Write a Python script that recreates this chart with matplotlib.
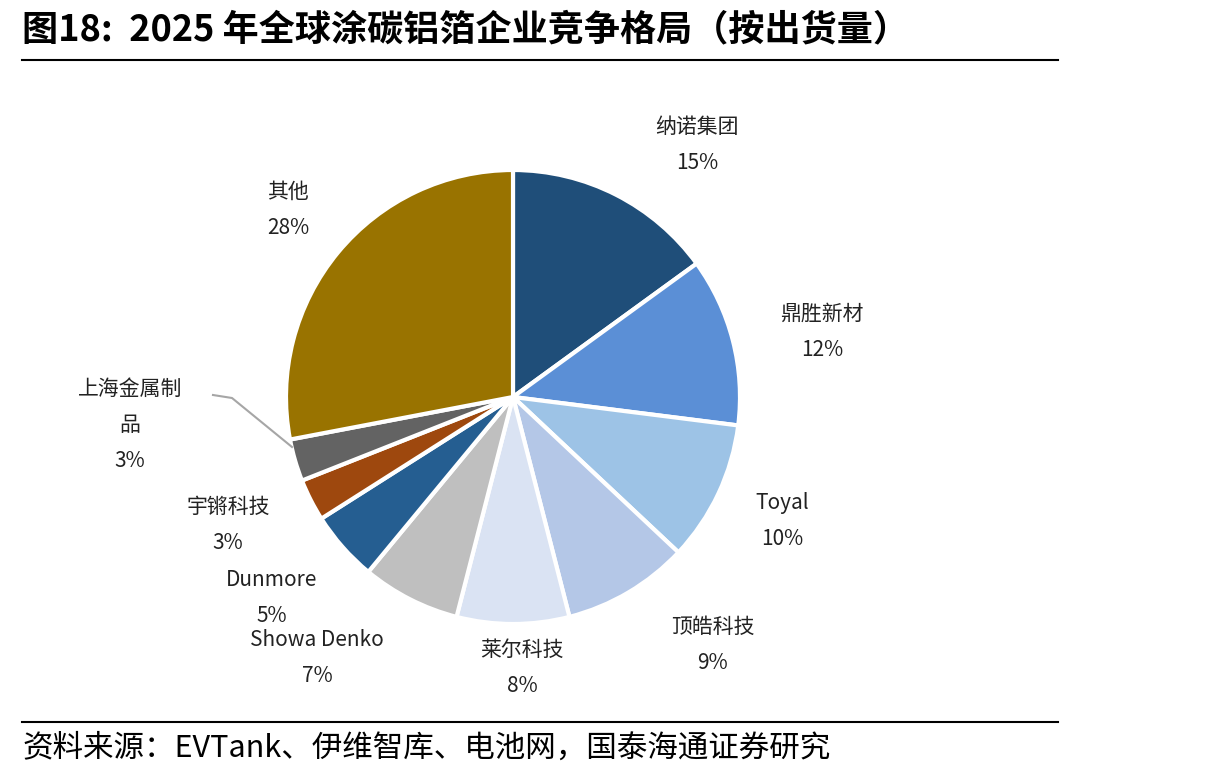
import matplotlib
matplotlib.use("Agg")
import matplotlib.pyplot as plt
from matplotlib.lines import Line2D

plt.rcParams['font.family'] = ['Noto Sans CJK SC', 'DejaVu Sans']

companies = ["纳诺集团", "鼎胜新材", "Toyal", "顶皓科技", "莱尔科技", "Showa Denko",
             "Dunmore", "宇锵科技", "上海金属制\n品", "其他"]
shares = [15, 12, 10, 9, 8, 7, 5, 3, 3, 28]
pct_labels = ["15%", "12%", "10%", "9%", "8%", "7%", "5%", "3%", "3%", "28%"]
colors = ["#1F4E79", "#5B8FD6", "#9DC3E6", "#B4C7E7", "#DAE3F3", "#BFBFBF",
          "#255E91", "#9E480E", "#636363", "#997300"]
label_pos = [(697, 145), (822, 332), (782, 521), (713, 645), (522, 668), (317, 658),
             (272, 598), (228, 525), (130, 425), (288, 210)]

W, H = 1213, 781
fig = plt.figure(figsize=(W/100, H/100), dpi=100)
ax = fig.add_axes([0, 0, 1, 1])

ax.pie(shares, colors=colors, startangle=90, counterclock=False,
       center=(513, H-397), radius=227, frame=True,
       wedgeprops=dict(edgecolor='white', linewidth=3))
ax.set_xlim(0, W); ax.set_ylim(0, H); ax.axis('off')

for name, p, (x, y) in zip(companies, pct_labels, label_pos):
    ax.text(x, H-y, name + "\n" + p, ha='center', va='center', fontsize=15,
            color='#222222', linespacing=1.85)

ax.plot([213, 232, 292], [H-395, H-398, H-447], color='#A6A6A6', lw=1.5)

fig.text(22/W, 1-30/H, "图18:  2025 年全球涂碳铝箔企业竞争格局（按出货量）",
         fontsize=26, fontweight='bold', va='center', ha='left')
fig.add_artist(Line2D([22/W, 1058/W], [1-60/H]*2, color='black', lw=1.5))
fig.add_artist(Line2D([22/W, 1058/W], [1-722/H]*2, color='black', lw=1.5))
fig.text(22/W, 1-748/H, "资料来源：EVTank、伊维智库、电池网，国泰海通证券研究",
         fontsize=22, va='center', ha='left')

fig.savefig("out.png", dpi=100)
